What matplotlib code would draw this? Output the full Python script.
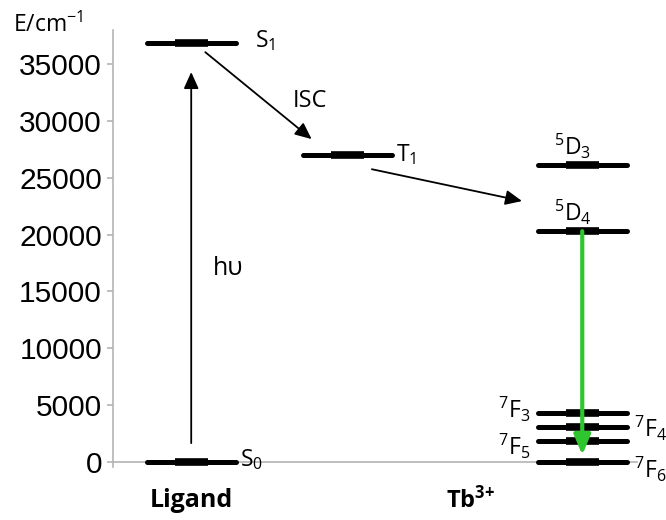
import matplotlib
matplotlib.use('Agg')
import matplotlib.pyplot as plt

plt.rcParams['font.family'] = ['Open Sans', 'DejaVu Sans']
plt.rcParams['mathtext.fontset'] = 'custom'
plt.rcParams['mathtext.rm'] = 'Open Sans'
plt.rcParams['mathtext.it'] = 'Open Sans:italic'
plt.rcParams['mathtext.bf'] = 'Open Sans:bold'

# energy levels (cm-1)
ligand_names = [r'$\mathrm{S}_0$', r'$\mathrm{S}_1$']
ligand_energy = [0, 36900]
triplet_name = r'$\mathrm{T}_1$'
triplet_energy = 27000
tb_names = [r'$^5\mathrm{D}_3$', r'$^5\mathrm{D}_4$', r'$^7\mathrm{F}_3$',
            r'$^7\mathrm{F}_4$', r'$^7\mathrm{F}_5$', r'$^7\mathrm{F}_6$']
tb_energy = [26100, 20300, 4300, 3100, 1850, 0]

yticks = [0, 5000, 10000, 15000, 20000, 25000, 30000, 35000]

# column positions
x_lig = 1.0
x_t1 = 3.0
x_tb = 6.0

fig = plt.figure(figsize=(6.66, 5.2), dpi=100)
ax = fig.add_axes([113/666, (520-467)/520, (637-113)/666, (467-30)/520])
ax.set_xlim(0, 6.7)
ax.set_ylim(-450, 38000)

gray = '#b4b4b4'
for s in ['top', 'right']:
    ax.spines[s].set_visible(False)
ax.spines['left'].set_color(gray)
ax.spines['bottom'].set_color(gray)
ax.spines['bottom'].set_position(('data', 0))
ax.spines['left'].set_linewidth(1.2)
ax.spines['bottom'].set_linewidth(1.2)
ax.set_xticks([])
ax.set_yticks(yticks)
ax.set_yticklabels([str(t) for t in yticks], fontsize=21.5, family='Liberation Sans')
ax.tick_params(axis='y', color=gray, length=4, width=1.2, pad=4)


def level(x, e):
    ax.plot([x - 0.57, x + 0.57], [e, e], color='black', lw=3.6,
            solid_capstyle='round', clip_on=False, zorder=3)
    ax.plot([x - 0.21, x + 0.21], [e, e], color='black', lw=5.5,
            solid_capstyle='butt', clip_on=False, zorder=3)


for e in ligand_energy:
    level(x_lig, e)
level(x_t1, triplet_energy)
for e in tb_energy:
    level(x_tb, e)

fs = 16.5
# ligand labels
ax.text(1.62, ligand_energy[0] + 200, ligand_names[0], fontsize=fs, va='center', ha='left')
ax.text(1.82, ligand_energy[1] + 200, ligand_names[1], fontsize=fs, va='center', ha='left')
ax.text(3.62, triplet_energy, triplet_name, fontsize=fs, va='center', ha='left')

# Tb labels
ax.text(5.88, tb_energy[0] + 350, tb_names[0], fontsize=fs, va='bottom', ha='center')
ax.text(5.88, tb_energy[1] + 350, tb_names[1], fontsize=fs, va='bottom', ha='center')
ax.text(5.33, tb_energy[2] + 350, tb_names[2], fontsize=fs, va='center', ha='right')
ax.text(5.33, tb_energy[4] - 500, tb_names[4], fontsize=fs, va='center', ha='right')
ax.text(6.66, tb_energy[3] - 200, tb_names[3], fontsize=fs, va='center', ha='left')
ax.text(6.66, tb_energy[5] - 650, tb_names[5], fontsize=fs, va='center', ha='left')

# arrows
black_arrow = dict(arrowstyle='-|>,head_length=1.0,head_width=0.45', color='black',
                   lw=1.3, mutation_scale=10, shrinkA=0, shrinkB=0)
ax.annotate('', xy=(x_lig, 34300), xytext=(x_lig, 1650), arrowprops=black_arrow)
ax.annotate('', xy=(2.54, 28400), xytext=(1.18, 36050), arrowprops=black_arrow)
ax.annotate('', xy=(5.23, 22950), xytext=(3.31, 25750), arrowprops=black_arrow)
ax.annotate('', xy=(x_tb, 600), xytext=(x_tb, tb_energy[1]),
            arrowprops=dict(arrowstyle='-|>,head_length=1.2,head_width=0.5',
                            color='#2fc52f', lw=3.0, mutation_scale=10,
                            shrinkA=0, shrinkB=0), zorder=4)

ax.text(1.28, 17000, 'h\u03c5', fontsize=18, va='center', ha='left')
ax.text(2.52, 31750, 'ISC', fontsize=17, va='center', ha='center')

# axis title and column labels
fig.text(13/666, 1 - 25/520, r'E/cm$^{-1}$', fontsize=16.5, va='center', ha='left')
ax.text(x_lig, -3400, 'Ligand', fontsize=18, fontweight='bold', ha='center', va='center')
ax.text(4.57, -3400, r'$\mathbf{Tb}^{\mathbf{3\!+}}$', fontsize=17, ha='center', va='center')

fig.savefig('out.png', dpi=100)
